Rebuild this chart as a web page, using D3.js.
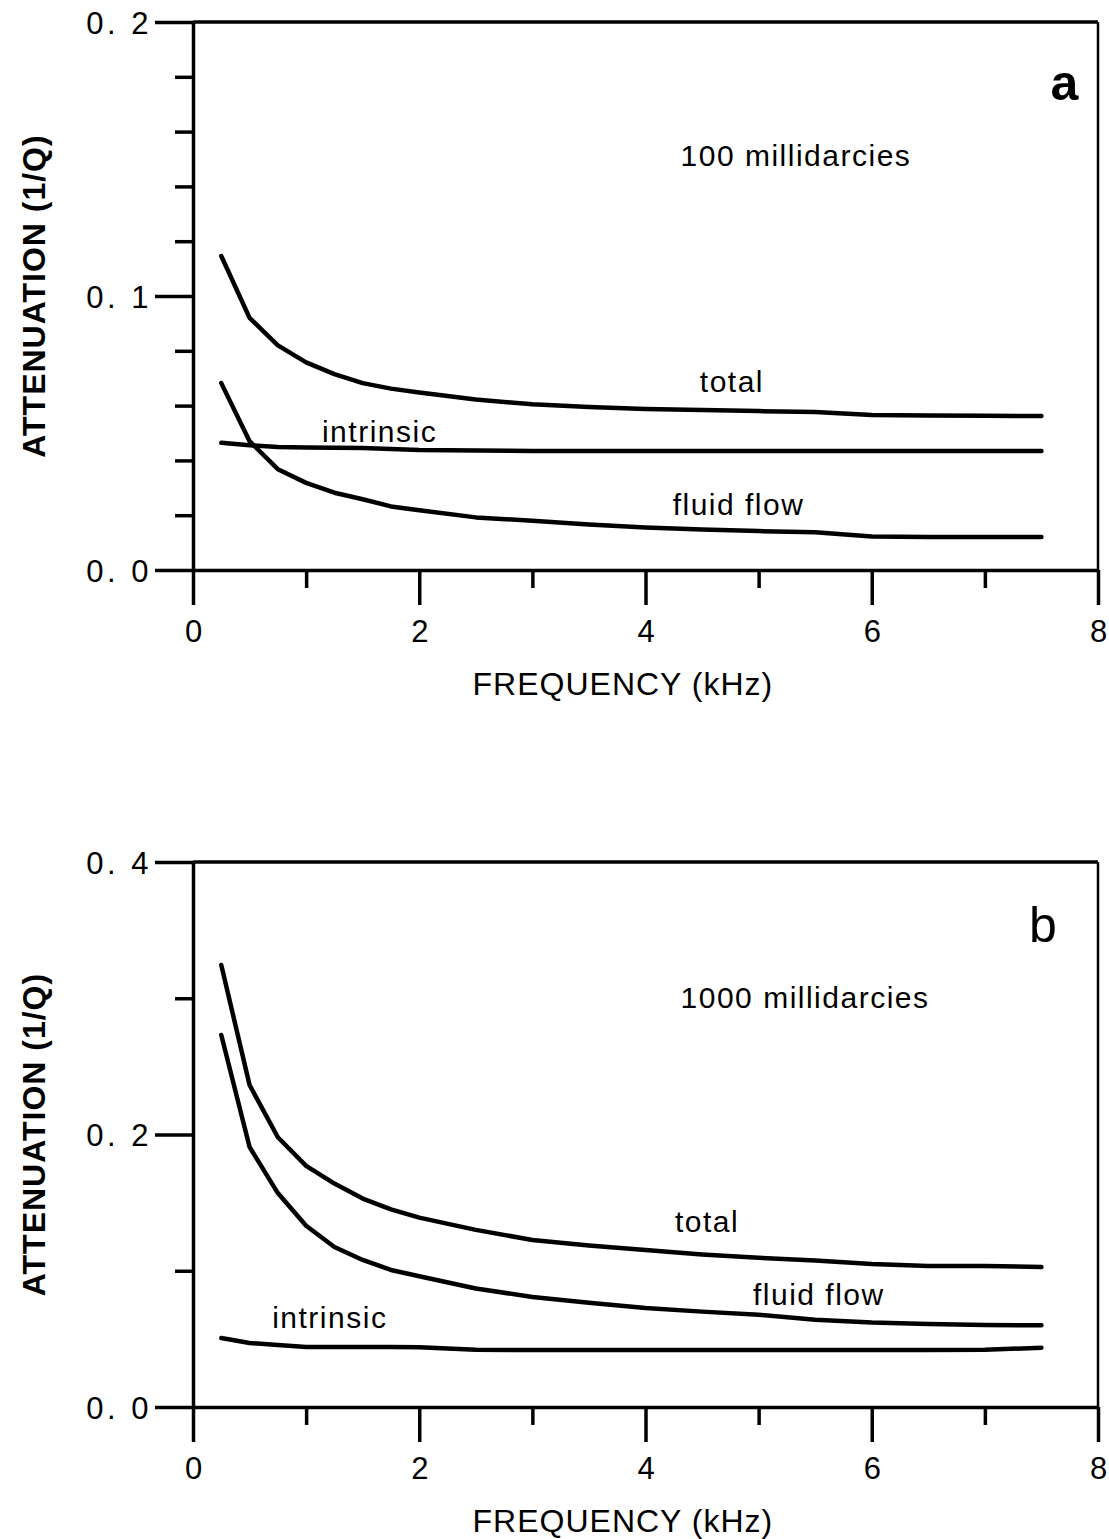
<!DOCTYPE html>
<html>
<head>
<meta charset="utf-8">
<script src="https://cdn.jsdelivr.net/npm/d3@7"></script>
<style>
  body { margin: 0; background: #fff; }
  svg { display: block; font-family: 'Liberation Sans', Arial, Helvetica, sans-serif; }
</style>
</head>
<body>
<div id="chart"></div>
<script>
// frequency samples (kHz), shared by both panels
const frequency = [0.25, 0.5, 0.75, 1, 1.25, 1.5, 1.75, 2, 2.5, 3, 3.5, 4, 4.5, 5, 5.5, 6, 6.5, 7, 7.5]

// panel a: 100 millidarcies
const totalA = [0.1146, 0.0920, 0.0820, 0.0758, 0.0715, 0.0682, 0.0662, 0.0648, 0.0622, 0.0605, 0.0595, 0.0588, 0.0584, 0.0580, 0.0577, 0.0566, 0.0564, 0.0563, 0.0562]
const intrinsicA = [0.0464, 0.0455, 0.0449, 0.0447, 0.0446, 0.0445, 0.0442, 0.0438, 0.0436, 0.0434, 0.0434, 0.0434, 0.0434, 0.0434, 0.0434, 0.0434, 0.0434, 0.0434, 0.0434]
const fluidFlowA = [0.0682, 0.0470, 0.0368, 0.0318, 0.0282, 0.0258, 0.0232, 0.0218, 0.0192, 0.0180, 0.0166, 0.0155, 0.0148, 0.0142, 0.0138, 0.0122, 0.0120, 0.0120, 0.0120]

// panel b: 1000 millidarcies
const totalB = [0.3244, 0.2363, 0.1980, 0.1770, 0.1640, 0.1530, 0.1450, 0.1390, 0.1300, 0.1226, 0.1185, 0.1152, 0.1120, 0.1095, 0.1075, 0.1050, 0.1035, 0.1035, 0.1028]
const fluidFlowB = [0.2730, 0.1908, 0.1570, 0.1330, 0.1174, 0.1079, 0.1006, 0.0960, 0.0870, 0.0807, 0.0765, 0.0727, 0.0700, 0.0677, 0.0640, 0.0620, 0.0610, 0.0602, 0.0600]
const intrinsicB = [0.0506, 0.0470, 0.0455, 0.0440, 0.0440, 0.0440, 0.0440, 0.0438, 0.0420, 0.0418, 0.0418, 0.0418, 0.0418, 0.0418, 0.0418, 0.0418, 0.0418, 0.0420, 0.0435]

// ticks
const xMajorTicks = [0, 2, 4, 6, 8]
const xMinorTicks = [1, 3, 5, 7]
const yMajorTicksA = [0, 0.1, 0.2]
const yTickLabelsA = ['0. 0', '0. 1', '0. 2']
const yMinorTicksA = [0.02, 0.04, 0.06, 0.08, 0.12, 0.14, 0.16, 0.18]
const yMajorTicksB = [0, 0.2, 0.4]
const yTickLabelsB = ['0. 0', '0. 2', '0. 4']
const yMinorTicksB = [0.1, 0.3]

const width = 1109
const height = 1539

const svg = d3.select('#chart').append('svg')
  .attr('width', width)
  .attr('height', height)

const axisStroke = 3.5

function styleAxis (g) {
  g.selectAll('path, line')
    .attr('stroke', '#000')
    .attr('stroke-width', axisStroke)
  g.selectAll('text')
    .attr('fill', '#000')
    .style('font-size', '31px')
}

function drawPanel (cfg) {
  const x = d3.scaleLinear().domain([0, 8]).range([193, 1098])
  const y = d3.scaleLinear().domain([0, cfg.yMax]).range([cfg.bottom, cfg.top])

  const g = svg.append('g')

  // top and right frame lines
  g.append('line')
    .attr('x1', x(0)).attr('x2', x(8))
    .attr('y1', y(cfg.yMax)).attr('y2', y(cfg.yMax))
    .attr('stroke', '#000').attr('stroke-width', axisStroke)
  g.append('line')
    .attr('x1', x(8)).attr('x2', x(8))
    .attr('y1', y(cfg.yMax)).attr('y2', y(0))
    .attr('stroke', '#000').attr('stroke-width', 2.5)

  // x axis: major ticks with labels
  const gx = g.append('g')
    .attr('transform', `translate(0,${y(0)})`)
    .call(d3.axisBottom(x).tickValues(xMajorTicks).tickSize(35).tickSizeOuter(0).tickFormat(d3.format('d')))
  styleAxis(gx)
  gx.selectAll('text').attr('y', 72).attr('dy', null)

  // x axis: minor ticks
  const gxm = g.append('g')
    .attr('transform', `translate(0,${y(0)})`)
    .call(d3.axisBottom(x).tickValues(xMinorTicks).tickSize(18).tickSizeOuter(0).tickFormat(''))
  styleAxis(gxm)
  gxm.select('.domain').remove()

  // y axis: major ticks with labels
  const gy = g.append('g')
    .attr('transform', `translate(${x(0)},0)`)
    .call(d3.axisLeft(y).tickValues(cfg.yMajor).tickSize(38).tickSizeOuter(0)
      .tickFormat((d, i) => cfg.yLabels[i]))
  styleAxis(gy)
  gy.selectAll('text')
    .attr('x', -41)
    .attr('dy', '0.36em')
    .style('letter-spacing', '3.5px')

  // y axis: minor ticks
  const gym = g.append('g')
    .attr('transform', `translate(${x(0)},0)`)
    .call(d3.axisLeft(y).tickValues(cfg.yMinor).tickSize(18).tickSizeOuter(0).tickFormat(''))
  styleAxis(gym)
  gym.select('.domain').remove()

  // curves
  const line = d3.line()
    .x((d, i) => x(frequency[i]))
    .y(d => y(d))

  g.selectAll('path.curve')
    .data(cfg.series)
    .enter()
    .append('path')
    .attr('class', 'curve')
    .attr('d', d => line(d.values))
    .attr('fill', 'none')
    .attr('stroke', '#000')
    .attr('stroke-width', 4.5)
    .attr('stroke-linejoin', 'round')
    .attr('stroke-linecap', 'round')

  // curve labels and panel notes
  g.selectAll('text.note')
    .data(cfg.notes)
    .enter()
    .append('text')
    .attr('class', 'note')
    .attr('x', d => x(d.f))
    .attr('y', d => y(d.v))
    .attr('fill', '#000')
    .style('font-size', d => d.size || '30px')
    .style('font-weight', d => d.weight || 'normal')
    .style('letter-spacing', d => d.spacing || '1.5px')
    .text(d => d.text)

  // axis titles
  g.append('text')
    .attr('x', x(3.8))
    .attr('y', y(0) + 125)
    .attr('text-anchor', 'middle')
    .attr('fill', '#000')
    .style('font-size', '32px')
    .style('letter-spacing', '1px')
    .text('FREQUENCY (kHz)')

  g.append('text')
    .attr('transform', `translate(45,${(y(0) + y(cfg.yMax)) / 2}) rotate(-90)`)
    .attr('text-anchor', 'middle')
    .attr('fill', '#000')
    .style('font-size', '32px')
    .style('font-weight', 'bold')
    .style('letter-spacing', '1px')
    .text('ATTENUATION (1/Q)')
}

drawPanel({
  top: 22,
  bottom: 570,
  yMax: 0.2,
  yMajor: yMajorTicksA,
  yLabels: yTickLabelsA,
  yMinor: yMinorTicksA,
  series: [
    { name: 'total', values: totalA },
    { name: 'intrinsic', values: intrinsicA },
    { name: 'fluid flow', values: fluidFlowA }
  ],
  notes: [
    { text: 'a', f: 7.58, v: 0.1715, size: '50px', weight: 'bold', spacing: '0px' },
    { text: '100 millidarcies', f: 4.31, v: 0.1474 },
    { text: 'total', f: 4.48, v: 0.065 },
    { text: 'intrinsic', f: 1.14, v: 0.0467 },
    { text: 'fluid flow', f: 4.24, v: 0.0201 }
  ]
})

drawPanel({
  top: 862,
  bottom: 1407,
  yMax: 0.4,
  yMajor: yMajorTicksB,
  yLabels: yTickLabelsB,
  yMinor: yMinorTicksB,
  series: [
    { name: 'total', values: totalB },
    { name: 'fluid flow', values: fluidFlowB },
    { name: 'intrinsic', values: intrinsicB }
  ],
  notes: [
    { text: 'b', f: 7.39, v: 0.3413, size: '50px', spacing: '0px' },
    { text: '1000 millidarcies', f: 4.31, v: 0.2928 },
    { text: 'total', f: 4.26, v: 0.1284 },
    { text: 'fluid flow', f: 4.95, v: 0.0749 },
    { text: 'intrinsic', f: 0.70, v: 0.058 }
  ]
})
</script>
</body>
</html>
